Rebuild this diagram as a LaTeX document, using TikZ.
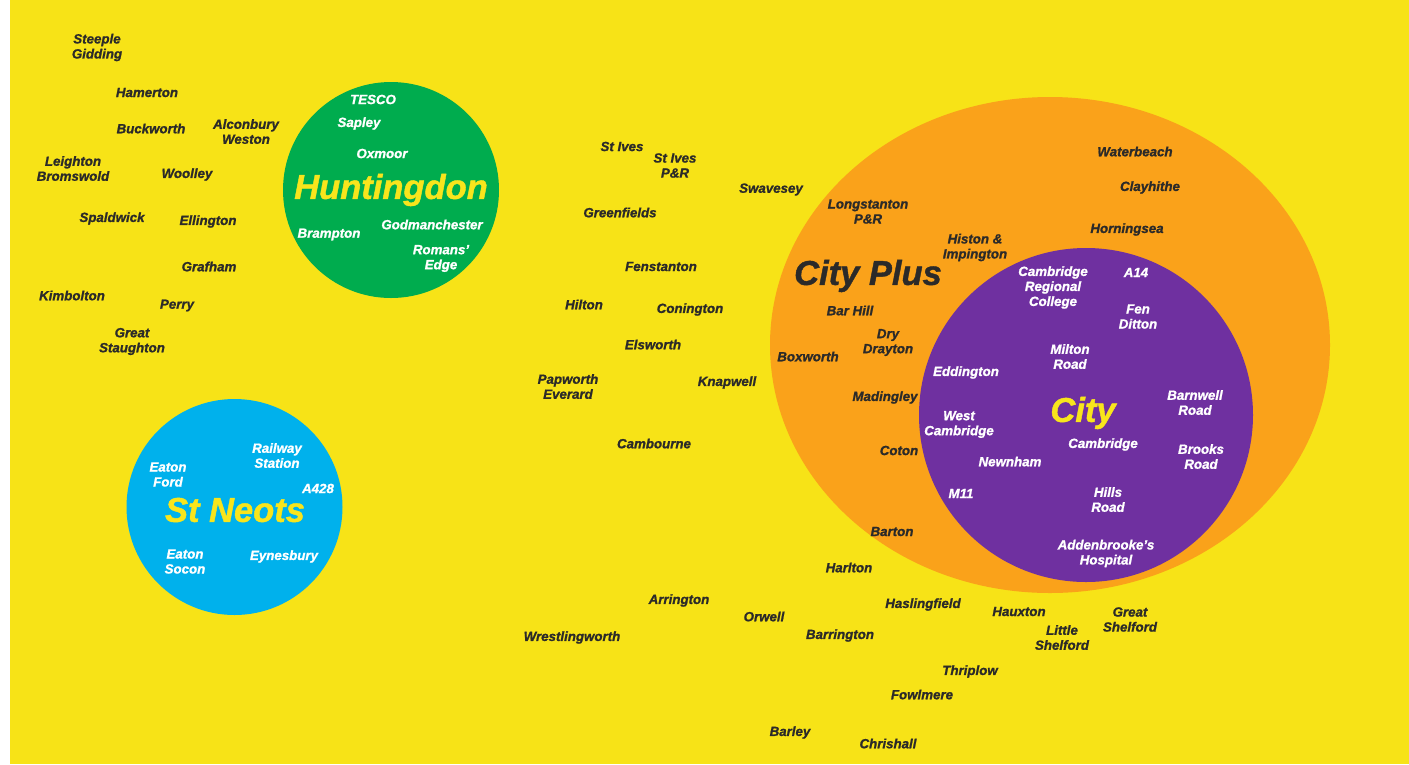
\documentclass[tikz,border=0pt]{standalone}
\usepackage{fontspec}
\setmainfont{Liberation Sans}[BoldItalicFeatures={FakeBold=1.2}]
\definecolor{bgyellow}{HTML}{F7E317}
\definecolor{cgreen}{HTML}{00AC4E}
\definecolor{cblue}{HTML}{00B1EC}
\definecolor{corange}{HTML}{FAA21A}
\definecolor{cpurple}{HTML}{6F30A0}
\definecolor{ctext}{HTML}{2B2A29}
\definecolor{cytext}{HTML}{F8E51C}
\tikzset{
  lbl/.style={inner sep=0pt, align=center, text=ctext, yshift=-0.5pt, font=\fontsize{13.3}{15}\selectfont\bfseries\itshape},
  wlbl/.style={lbl, text=white},
  bigl/.style={inner sep=0pt, text=cytext, yshift=-1pt, font=\fontsize{34.5}{36}\selectfont\bfseries\itshape}
}
\begin{document}
\begin{tikzpicture}[x=1pt,y=-1pt]
\useasboundingbox (0,0) rectangle (1409,764);
\fill[white] (0,0) rectangle (1409,764);
\fill[bgyellow] (10,0) rectangle (1409,764);
% zones
\fill[cgreen] (391,190) circle[radius=108];
\fill[cblue] (234.5,507) circle[radius=108];
\fill[corange] (1050,345) ellipse[x radius=280, y radius=248];
\fill[cpurple] (1086,415) circle[radius=167];
% left cluster
\node[lbl] (steeple) at (97,47) {Steeple\\Gidding};
\node[lbl] (hamerton) at (147,92) {Hamerton};
\node[lbl] (buckworth) at (151,128) {Buckworth};
\node[lbl] (alconbury) at (246,131) {Alconbury\\Weston};
\node[lbl] (leighton) at (73,168) {Leighton\\Bromswold};
\node[lbl] (woolley) at (187,174) {Woolley};
\node[lbl] (spaldwick) at (112,218) {Spaldwick};
\node[lbl] (ellington) at (208,221) {Ellington};
\node[lbl] (grafham) at (209,266) {Grafham};
\node[lbl] (kimbolton) at (72,295) {Kimbolton};
\node[lbl] (perry) at (177,305) {Perry};
\node[lbl] (staughton) at (132,341) {Great\\Staughton};
% Huntingdon
\node[wlbl] (tesco) at (373,99) {TESCO};
\node[wlbl] (sapley) at (359,123) {Sapley};
\node[wlbl] (oxmoor) at (382,153) {Oxmoor};
\node[bigl] (huntingdon) at (391,189) {Huntingdon};
\node[wlbl] (brampton) at (329,234) {Brampton};
\node[wlbl] (godman) at (432,224) {Godmanchester};
\node[wlbl] (romans) at (441,258) {Romans’\\Edge};
% St Neots
\node[wlbl] (railway) at (277,455) {Railway\\Station};
\node[wlbl] (eatonford) at (168,474) {Eaton\\Ford};
\node[wlbl] (a428) at (318,488) {A428};
\node[bigl] (stneots) at (235,509) {St Neots};
\node[wlbl] (eatonsocon) at (185,561) {Eaton\\Socon};
\node[wlbl] (eynesbury) at (284,556) {Eynesbury};
% middle
\node[lbl] (stives) at (622,146) {St Ives};
\node[lbl] (stivespr) at (675,165) {St Ives\\P\&R};
\node[lbl] (swavesey) at (771,189) {Swavesey};
\node[lbl] (greenfields) at (620,212) {Greenfields};
\node[lbl] (fenstanton) at (661,266) {Fenstanton};
\node[lbl] (hilton) at (584,304) {Hilton};
\node[lbl] (conington) at (690,309) {Conington};
\node[lbl] (elsworth) at (653,344) {Elsworth};
\node[lbl] (papworth) at (568,386) {Papworth\\Everard};
\node[lbl] (knapwell) at (727,382) {Knapwell};
\node[lbl] (cambourne) at (654,443) {Cambourne};
% City Plus
\node[lbl] (longstanton) at (868,211) {Longstanton\\P\&R};
\node[lbl] (histon) at (975,247) {Histon \&\\Impington};
\node[bigl, text=ctext] (cityplus) at (868,275) {City Plus};
\node[lbl] (barhill) at (850,310) {Bar Hill};
\node[lbl] (drydrayton) at (888,342) {Dry\\Drayton};
\node[lbl] (boxworth) at (808,356) {Boxworth};
\node[lbl] (madingley) at (885,397) {Madingley};
\node[lbl] (coton) at (899,450) {Coton};
\node[lbl] (barton) at (892,531) {Barton};
\node[lbl] (waterbeach) at (1135,151) {Waterbeach};
\node[lbl] (clayhithe) at (1150,187) {Clayhithe};
\node[lbl] (horningsea) at (1127,229) {Horningsea};
% City
\node[wlbl] (crc) at (1053,287) {Cambridge\\Regional\\College};
\node[wlbl] (a14) at (1136,272) {A14};
\node[wlbl] (fenditton) at (1138,316) {Fen\\Ditton};
\node[wlbl] (milton) at (1070,356) {Milton\\Road};
\node[wlbl] (eddington) at (966,372) {Eddington};
\node[bigl] (city) at (1083,412) {City};
\node[wlbl] (barnwell) at (1195,402) {Barnwell\\Road};
\node[wlbl] (westcam) at (959,424) {West\\Cambridge};
\node[wlbl] (cambridge) at (1103,444) {Cambridge};
\node[wlbl] (brooks) at (1201,456) {Brooks\\Road};
\node[wlbl] (newnham) at (1010,461) {Newnham};
\node[wlbl] (m11) at (961,493) {M11};
\node[wlbl] (hills) at (1108,499) {Hills\\Road};
\node[wlbl] (addenbrookes) at (1106,553) {Addenbrooke’s\\Hospital};
% south
\node[lbl] (harlton) at (849,567) {Harlton};
\node[lbl] (arrington) at (679,600) {Arrington};
\node[lbl] (orwell) at (764,616) {Orwell};
\node[lbl] (haslingfield) at (923,604) {Haslingfield};
\node[lbl] (hauxton) at (1019,611) {Hauxton};
\node[lbl] (gshelford) at (1130,619) {Great\\Shelford};
\node[lbl] (lshelford) at (1062,637) {Little\\Shelford};
\node[lbl] (barrington) at (840,635) {Barrington};
\node[lbl] (wrestling) at (572,637) {Wrestlingworth};
\node[lbl] (thriplow) at (970,671) {Thriplow};
\node[lbl] (fowlmere) at (922,694) {Fowlmere};
\node[lbl] (barley) at (790,732) {Barley};
\node[lbl] (chrishall) at (888,743) {Chrishall};
\end{tikzpicture}
\end{document}
